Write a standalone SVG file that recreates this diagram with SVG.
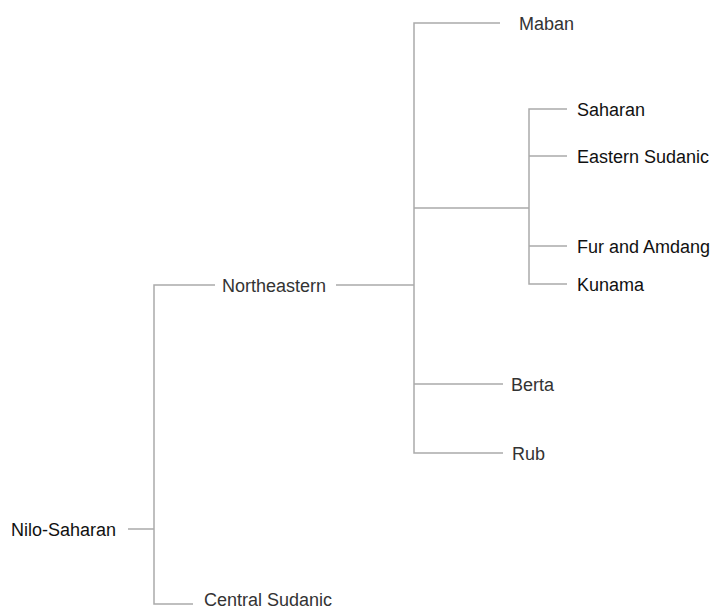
<svg xmlns="http://www.w3.org/2000/svg" width="713" height="611" viewBox="0 0 713 611">
<style>
.ln{stroke:#aaaaaa;stroke-width:1.5;fill:none}
text{font-family:"Liberation Sans","DejaVu Sans",sans-serif;font-size:18px}
.dk{fill:#111111}
.gy{fill:#333333}
</style>
<rect width="713" height="611" fill="#ffffff"/>
<g id="connectors">
<path class="ln" d="M128,529H154"/>
<path class="ln" d="M215,285H154V604H193"/>
<path class="ln" d="M336,285H414"/>
<path class="ln" d="M500,23H414V453H503"/>
<path class="ln" d="M414,208H529"/>
<path class="ln" d="M414,384H503"/>
<path class="ln" d="M567,109H529V284H567"/>
<path class="ln" d="M529,156H567"/>
<path class="ln" d="M529,246H567"/>
</g>
<g id="nilo-saharan"><text class="dk" x="11" y="535.5">Nilo-Saharan</text></g>
<g id="northeastern"><text class="gy" x="222" y="291.5">Northeastern</text></g>
<g id="central-sudanic"><text class="gy" x="204" y="606">Central Sudanic</text></g>
<g id="maban"><text class="gy" x="519" y="30">Maban</text></g>
<g id="saharan"><text class="dk" x="577" y="115.5">Saharan</text></g>
<g id="eastern-sudanic"><text class="dk" x="577" y="162.5">Eastern Sudanic</text></g>
<g id="fur-and-amdang"><text class="dk" x="577" y="252.5">Fur and Amdang</text></g>
<g id="kunama"><text class="dk" x="577" y="290.5">Kunama</text></g>
<g id="berta"><text class="gy" x="511" y="390.5">Berta</text></g>
<g id="rub"><text class="gy" x="512" y="459.5">Rub</text></g>
</svg>
